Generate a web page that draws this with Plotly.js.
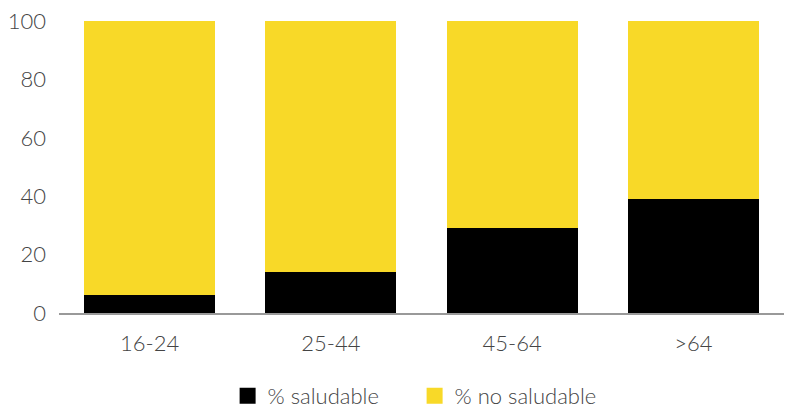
<!DOCTYPE html>
<html>
<head>
<meta charset="utf-8">
<script src="https://cdn.plot.ly/plotly-3.0.1.min.js"></script>
<style>
  html, body { margin: 0; padding: 0; background: #fff; }
  #chart { width: 785px; height: 406px; }
</style>
</head>
<body>
<div id="chart"></div>
<script>
// Age groups and share of healthy / non-healthy (%)
const ageGroups = ['16-24', '25-44', '45-64', '>64'];
const saludable = [6, 14, 29, 39];
const noSaludable = saludable.map(v => 100 - v);
const yTicks = [0, 20, 40, 60, 80, 100];

const BLACK = '#000000';
const YELLOW = '#F8D928';
const FONT = 'Lato, "Open Sans", sans-serif';
const TXT = { family: FONT, size: 22, color: '#444', weight: 300 };

const traces = [
  {
    type: 'bar', x: ageGroups, y: saludable, name: '% saludable',
    marker: { color: BLACK }, showlegend: false, hoverinfo: 'skip'
  },
  {
    type: 'bar', x: ageGroups, y: noSaludable, name: '% no saludable',
    marker: { color: YELLOW }, showlegend: false, hoverinfo: 'skip'
  },
  // legend swatches
  {
    type: 'scatter', mode: 'markers', x: [null], y: [null], name: '% saludable',
    marker: { symbol: 'square', size: 19, color: BLACK }
  },
  {
    type: 'scatter', mode: 'markers', x: [null], y: [null], name: '% no saludable',
    marker: { symbol: 'square', size: 19, color: YELLOW }
  }
];

const layout = {
  width: 785, height: 406,
  margin: { l: 59, r: 1, t: 21, b: 93, autoexpand: false },
  paper_bgcolor: '#fff', plot_bgcolor: '#fff',
  barmode: 'stack',
  bargap: 0.278,
  font: TXT,
  xaxis: {
    type: 'category', range: [-0.5, 3.5],
    showgrid: false, zeroline: false,
    showline: true, linecolor: '#999', linewidth: 1.5,
    ticks: '', ticklabelstandoff: 10,
    tickfont: TXT
  },
  yaxis: {
    range: [0, 100], tickvals: yTicks, ticktext: yTicks.map(String),
    showgrid: false, zeroline: false, showline: false,
    ticks: '', ticklabelstandoff: 12,
    tickfont: TXT
  },
  showlegend: true,
  legend: {
    orientation: 'h', traceorder: 'normal',
    entrywidth: 142, entrywidthmode: 'pixels',
    x: 0.4905, xanchor: 'center', xref: 'paper',
    y: 0.025, yanchor: 'middle', yref: 'container',
    font: TXT, itemclick: false, itemdoubleclick: false
  }
};

Plotly.newPlot('chart', traces, layout, { displayModeBar: false, staticPlot: true });
</script>
</body>
</html>
